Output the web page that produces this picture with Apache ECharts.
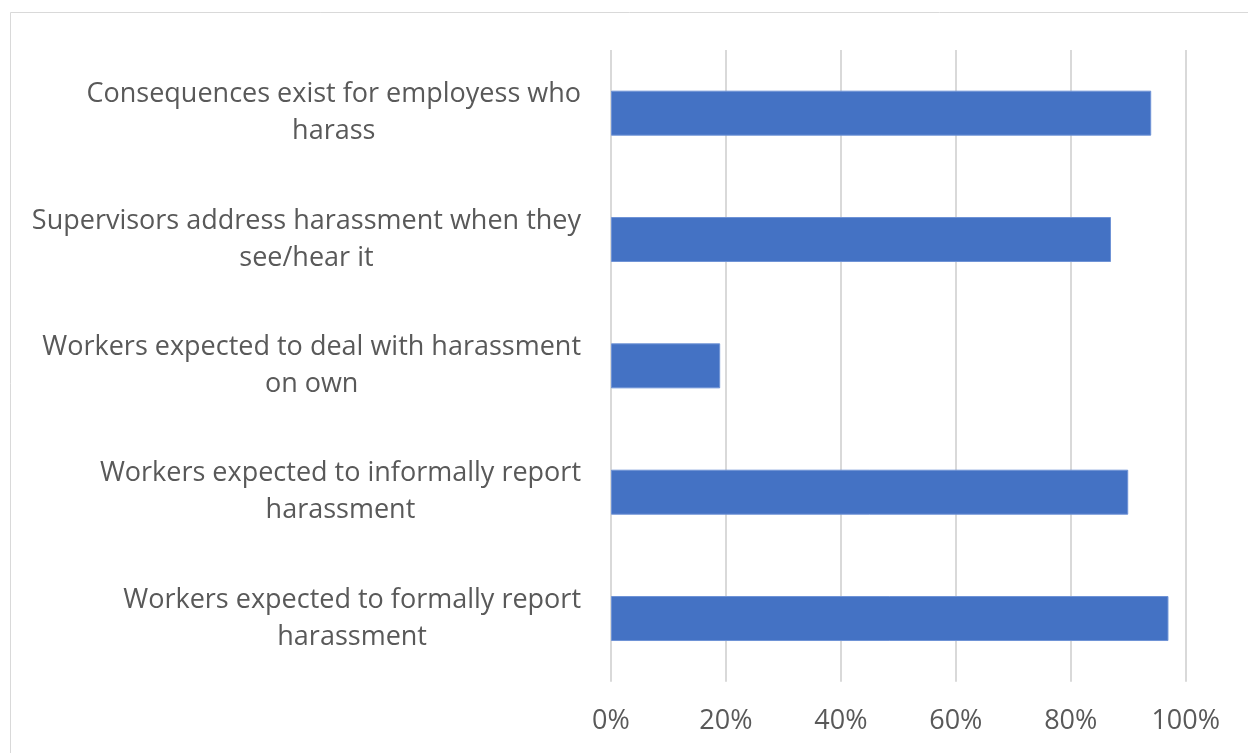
<!DOCTYPE html>
<html>
<head>
<meta charset="utf-8">
<script src="https://cdn.jsdelivr.net/npm/echarts@6/dist/echarts.min.js"></script>
<style>
html,body{margin:0;padding:0;background:#fff;}
#chart{width:1248px;height:753px;}
</style>
</head>
<body>
<div id="chart"></div>
<script>
const categories = [
  "Consequences exist for employess who\nharass",
  "Supervisors address harassment when they\nsee/hear it",
  "Workers expected to deal with harassment\non own",
  "Workers expected to informally report\nharassment",
  "Workers expected to formally report\nharassment"
];
const values = [94, 87, 19, 90, 97];
const tickLabels = ["0%", "20%", "40%", "60%", "80%", "100%"];

const chart = echarts.init(document.getElementById('chart'), null, {renderer: 'canvas'});
const FONT = 'Open Sans';
const FS = 27;
chart.setOption({
  animation: false,
  backgroundColor: '#ffffff',
  graphic: [{
    type: 'rect',
    shape: {x: 10.5, y: 12.5, width: 1300, height: 800},
    style: {fill: 'none', stroke: '#d9d9d9', lineWidth: 1},
    silent: true, z: -1
  }],
  grid: {left: 611, right: 62.3, top: 50, bottom: 71.3, containLabel: false},
  xAxis: {
    type: 'value', min: 0, max: 100, interval: 20,
    axisLine: {show: false}, axisTick: {show: false},
    splitLine: {show: true, lineStyle: {color: '#d9d9d9', width: 2}},
    axisLabel: {
      margin: 26, fontFamily: FONT, fontSize: FS, color: '#595959',
      formatter: function (v) { return tickLabels[Math.round(v / 20)]; }
    }
  },
  yAxis: {
    type: 'category', data: categories, inverse: true,
    axisLine: {show: false}, axisTick: {show: false},
    axisLabel: {
      margin: 30, fontFamily: FONT, fontSize: FS, color: '#595959',
      align: 'right', lineHeight: 37,
      formatter: function (v) {
        return v.split('\n').map(function (s) { return '{c|' + s + '}'; }).join('\n');
      },
      rich: {c: {align: 'center', fontFamily: FONT, fontSize: FS, color: '#595959', lineHeight: 37}}
    }
  },
  series: [{
    type: 'bar', data: values, barWidth: 45,
    itemStyle: {color: '#4472C4', borderColor: '#6f93d6', borderWidth: 1}
  }]
});
</script>
</body>
</html>
